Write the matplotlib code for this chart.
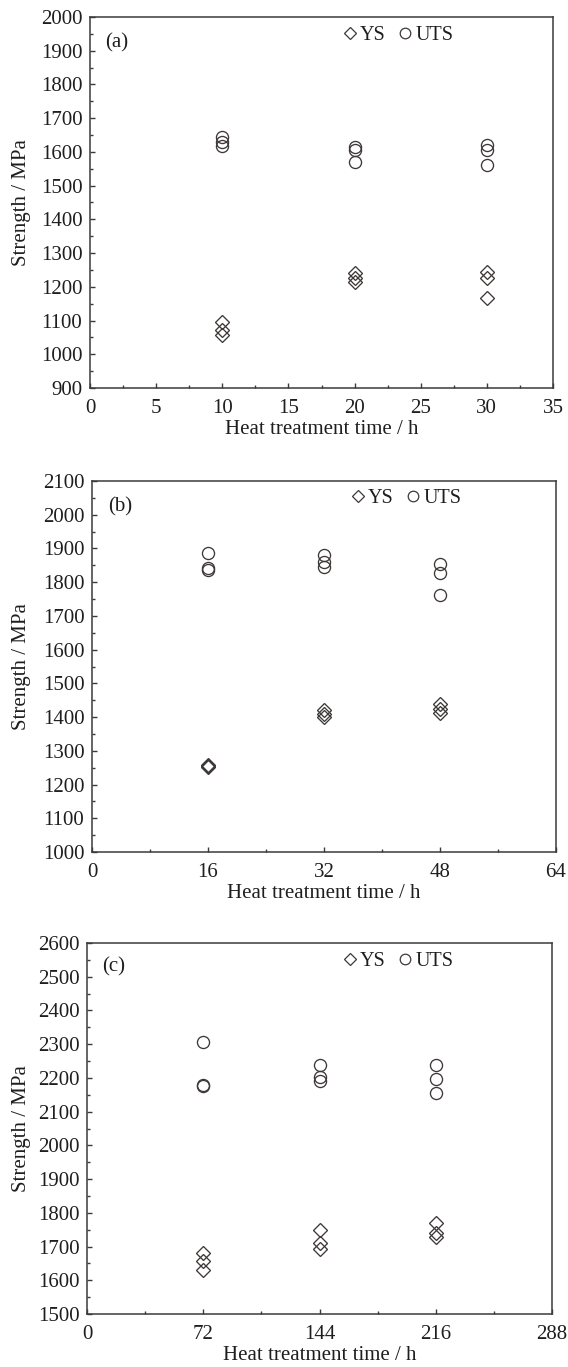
import matplotlib
matplotlib.use("Agg")
import matplotlib.pyplot as plt
from matplotlib.ticker import MultipleLocator
from matplotlib.lines import Line2D

plt.rcParams['font.family'] = ['Liberation Serif', 'DejaVu Serif']
plt.rcParams['mathtext.fontset'] = 'stix'

# ---- data ----
times_a = [10, 20, 30]
ys_a = [[1097, 1072, 1057], [1240, 1225, 1215], [1243, 1225, 1168]]
uts_a = [[1645, 1630, 1618], [1615, 1605, 1570], [1620, 1605, 1560]]

times_b = [16, 32, 48]
ys_b = [[1258, 1255, 1252], [1420, 1410, 1400], [1440, 1425, 1412]]
uts_b = [[1888, 1843, 1836], [1880, 1860, 1845], [1855, 1828, 1762]]

times_c = [72, 144, 216]
ys_c = [[1681, 1656, 1629], [1750, 1711, 1692], [1770, 1740, 1728]]
uts_c = [[2307, 2180, 2176], [2238, 2202, 2192], [2238, 2198, 2156]]

panel_labels = ['(a)', '(b)', '(c)']
xlims = [(0, 35), (0, 64), (0, 288)]
xmajor = [5, 16, 72]
ylims = [(900, 2000), (1000, 2100), (1500, 2600)]

W, H = 568, 1367
fig = plt.figure(figsize=(W / 100, H / 100), dpi=100)

# pixel boxes (left, right, top, bottom)
boxes = [(90, 553, 17, 388), (92, 556, 481, 852), (87, 552, 943, 1314)]
leg_left_px = [343, 351, 343]
leg_y = [0.951, 0.954, 0.949]
lab_pos = [(0.032, 0.93), (0.034, 0.93), (0.032, 0.935)]

ec = '#3f3838'
axc = '#3a3a3a'
txt = '#1e1e1e'
FS = 15

datasets = [(times_a, ys_a, uts_a), (times_b, ys_b, uts_b), (times_c, ys_c, uts_c)]

for i, (times, ys, uts) in enumerate(datasets):
    l, r, t, b = boxes[i]
    ax = fig.add_axes([l / W, 1 - b / H, (r - l) / W, (b - t) / H])
    for x, vals in zip(times, ys):
        ax.plot([x] * len(vals), vals, linestyle='none', marker='D', ms=6.7,
                mfc='none', mec=ec, mew=0.95)
    for x, vals in zip(times, uts):
        ax.plot([x] * len(vals), vals, linestyle='none', marker='o', ms=8.7,
                mfc='none', mec=ec, mew=0.95)
    ax.set_xlim(*xlims[i])
    ax.set_ylim(*ylims[i])
    ax.xaxis.set_major_locator(MultipleLocator(xmajor[i]))
    ax.xaxis.set_minor_locator(MultipleLocator(xmajor[i] / 2))
    ax.yaxis.set_major_locator(MultipleLocator(100))
    ax.yaxis.set_minor_locator(MultipleLocator(50))
    ax.tick_params(which='both', direction='in', top=False, right=False,
                   colors=axc, labelcolor=txt, labelsize=FS, width=1.0)
    ax.tick_params(which='major', length=3.6)
    ax.tick_params(which='minor', length=2.2)
    ax.tick_params(axis='y', which='major', pad=5.5)
    ax.tick_params(axis='x', which='major', pad=8.0)
    for s in ax.spines.values():
        s.set_color(axc)
        s.set_linewidth(1.1)
    ax.set_xlabel('Heat treatment time / h', fontsize=FS, color=txt)
    ax.xaxis.set_label_coords(0.5, -0.087)
    ax.set_ylabel('Strength / MPa', fontsize=FS, color=txt)
    ax.yaxis.set_label_coords((31 - l) / (r - l), 0.5)
    ax.text(lab_pos[i][0], lab_pos[i][1], panel_labels[i], transform=ax.transAxes,
            fontsize=FS, color=txt, ha='left', va='center')
    handles = [Line2D([], [], linestyle='none', marker='D', ms=6.0, mfc='none', mec=ec, mew=0.9),
               Line2D([], [], linestyle='none', marker='o', ms=7.6, mfc='none', mec=ec, mew=0.9)]
    ax.legend(handles, ['YS', 'UTS'], ncol=2, loc='center left',
              bbox_to_anchor=((leg_left_px[i] - l) / (r - l), leg_y[i]),
              frameon=False, fontsize=14.5,
              handlelength=0.7, handletextpad=0.15, columnspacing=0.6,
              borderpad=0, borderaxespad=0, labelcolor=txt)

fig.savefig('out.png', dpi=100)
